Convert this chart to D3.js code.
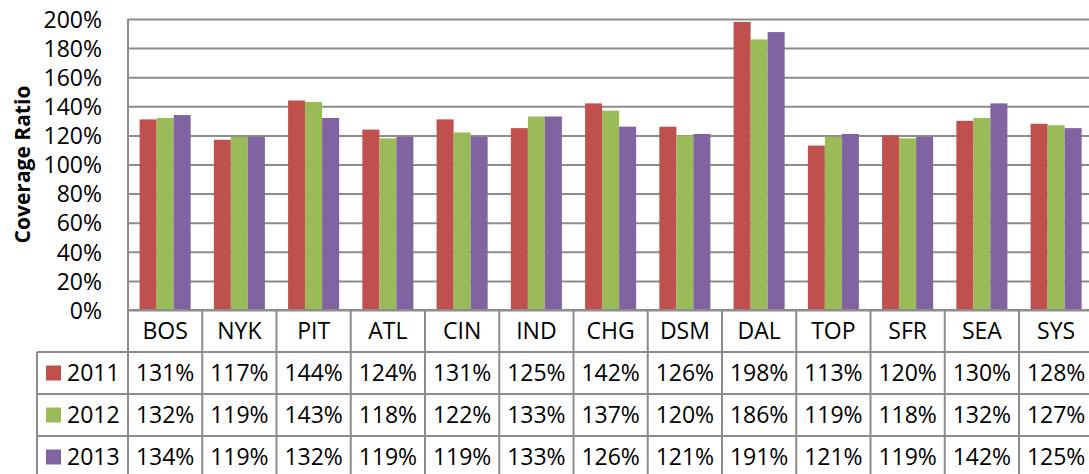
<!DOCTYPE html>
<html>
<head>
<meta charset="utf-8">
<script src="https://cdn.jsdelivr.net/npm/d3@7"></script>
<style>
  body { margin: 0; background: #fff; overflow: hidden; }
  svg { display: block; }
</style>
</head>
<body>
<svg id="chart"></svg>
<script>
// chart data
const categories = ["BOS", "NYK", "PIT", "ATL", "CIN", "IND", "CHG", "DSM", "DAL", "TOP", "SFR", "SEA", "SYS"];
const years = ["2011", "2012", "2013"];
const v2011 = [131, 117, 144, 124, 131, 125, 142, 126, 198, 113, 120, 130, 128];
const v2012 = [132, 119, 143, 118, 122, 133, 137, 120, 186, 119, 118, 132, 127];
const v2013 = [134, 119, 132, 119, 119, 133, 126, 121, 191, 121, 119, 142, 125];
const yTicks = [0, 20, 40, 60, 80, 100, 120, 140, 160, 180, 200];
const colors = ["#C0504D", "#9BBB59", "#8064A2"];

const series = [v2011, v2012, v2013];

const width = 1089;
const height = 474;
const margin = ({top: 19, left: 128, bottom: 310});
const catW = 74.25;
const rowH = 42;
const font = "'Open Sans', 'Liberation Sans', sans-serif";
const fontSize = 23;
const gridColor = "#8c8c8c";

const svg = d3.select("#chart")
    .attr("width", width)
    .attr("height", height);

//x axis config: categories, then years inside each category
const x = d3.scaleBand()
    .domain(categories)
    .range([margin.left, margin.left + catW * categories.length]);

const x1 = d3.scaleBand()
    .domain(years)
    .range([11.6, catW - 11.6]);

//y axis config
const y = d3.scaleLinear()
    .domain([0, 200])
    .range([margin.bottom, margin.top]);

const plotRight = x.range()[1];

// gridlines + tick labels
const yAxis = g => g
    .attr("transform", `translate(${margin.left},0)`)
    .call(d3.axisLeft(y)
      .tickValues(yTicks)
      .tickSize(-(plotRight - margin.left))
      .tickPadding(26)
      .tickFormat(d => d + "%"))
    .call(g => g.select(".domain").remove())
    .call(g => g.selectAll(".tick line")
      .attr("stroke", gridColor)
      .attr("stroke-width", 2))
    .call(g => g.selectAll(".tick text")
      .attr("fill", "#000")
      .attr("font-family", font)
      .attr("font-size", fontSize)
      .attr("dy", "0.36em"));

svg.append("g").call(yAxis);

// bars
const groups = svg.append("g")
  .selectAll("g")
  .data(series)
  .join("g")
    .attr("fill", (d, i) => colors[i]);

groups.selectAll("rect")
  .data((d, i) => d.map((v, j) => ({cat: categories[j], year: years[i], value: v})))
  .join("rect")
    .attr("x", d => x(d.cat) + x1(d.year))
    .attr("y", d => y(d.value))
    .attr("width", x1.bandwidth())
    .attr("height", d => y(0) - y(d.value));

// y axis title
svg.append("text")
    .attr("transform", `translate(30,${(margin.top + margin.bottom) / 2}) rotate(-90)`)
    .attr("text-anchor", "middle")
    .attr("font-family", font)
    .attr("font-weight", "bold")
    .attr("font-size", 21)
    .text("Coverage Ratio");

// data table below the plot
const table = svg.append("g");
const tableTop = margin.bottom;
const legendLeft = 37;
const tableBottom = tableTop + rowH * 4 + 10;

const lines = table.append("g")
    .attr("stroke", gridColor)
    .attr("stroke-width", 2);

// left axis line of the plot, down through the table
lines.append("line")
    .attr("x1", margin.left).attr("x2", margin.left)
    .attr("y1", margin.top).attr("y2", tableBottom);

// category dividers
lines.selectAll(".div")
  .data(categories)
  .join("line")
    .attr("class", "div")
    .attr("x1", d => x(d) + catW).attr("x2", d => x(d) + catW)
    .attr("y1", tableTop).attr("y2", tableBottom);

// legend column left border
lines.append("line")
    .attr("x1", legendLeft).attr("x2", legendLeft)
    .attr("y1", tableTop + rowH).attr("y2", tableBottom);

// horizontal row lines
lines.append("line")
    .attr("x1", margin.left).attr("x2", plotRight)
    .attr("y1", tableTop).attr("y2", tableTop);
lines.selectAll(".row")
  .data(years)
  .join("line")
    .attr("class", "row")
    .attr("x1", legendLeft).attr("x2", plotRight)
    .attr("y1", (d, i) => tableTop + rowH * (i + 1))
    .attr("y2", (d, i) => tableTop + rowH * (i + 1));

// header row with category names
table.append("g")
  .selectAll("text")
  .data(categories)
  .join("text")
    .attr("x", d => x(d) + catW / 2)
    .attr("y", tableTop + rowH / 2)
    .attr("dy", "0.36em")
    .attr("text-anchor", "middle")
    .attr("font-family", font)
    .attr("font-size", fontSize)
    .text(d => d);

// one row per year
const rows = table.append("g")
  .selectAll("g")
  .data(series)
  .join("g")
    .attr("transform", (d, i) => `translate(0,${tableTop + rowH * (i + 1) + rowH / 2})`);

rows.append("rect")
    .attr("x", 46)
    .attr("y", -7.5)
    .attr("width", 15)
    .attr("height", 15)
    .attr("fill", (d, i) => colors[i]);

rows.append("text")
    .attr("x", 67)
    .attr("dy", "0.36em")
    .attr("font-family", font)
    .attr("font-size", fontSize)
    .text((d, i) => years[i]);

rows.selectAll(".val")
  .data(d => d)
  .join("text")
    .attr("class", "val")
    .attr("x", (d, j) => x(categories[j]) + catW / 2)
    .attr("dy", "0.36em")
    .attr("text-anchor", "middle")
    .attr("font-family", font)
    .attr("font-size", fontSize)
    .text(d => d + "%");
</script>
</body>
</html>
